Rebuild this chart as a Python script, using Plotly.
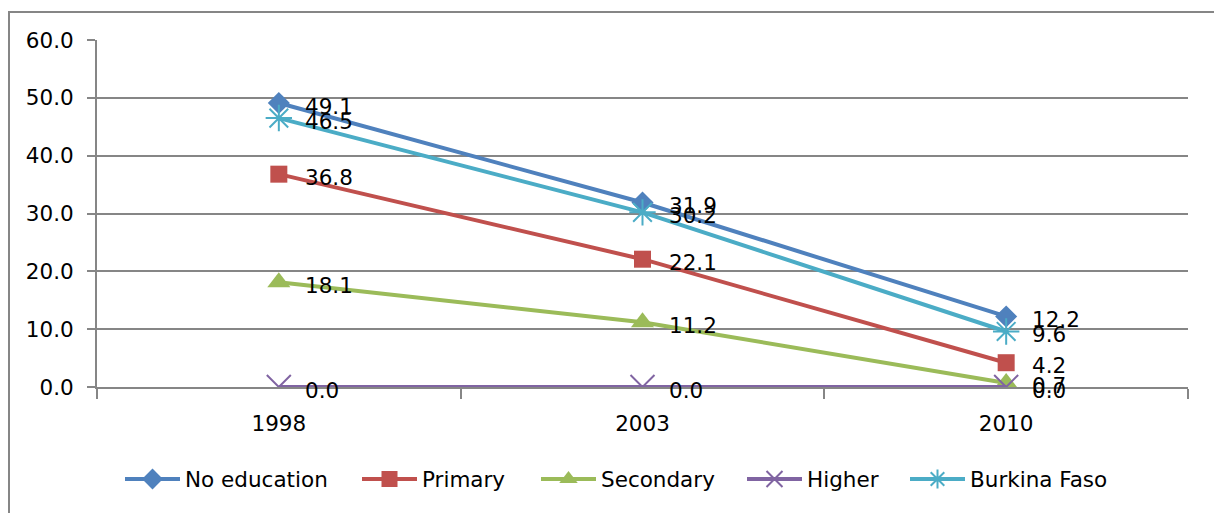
import plotly.graph_objects as go

# Survey years and series values (%)
years = ["1998", "2003", "2010"]
no_education = [49.1, 31.9, 12.2]
primary = [36.8, 22.1, 4.2]
secondary = [18.1, 11.2, 0.7]
higher = [0.0, 0.0, 0.0]
burkina_faso = [46.5, 30.2, 9.6]

series_names = ["No education", "Primary", "Secondary", "Higher", "Burkina Faso"]
y_ticks = [0, 10, 20, 30, 40, 50, 60]

W, H = 1214, 513
L, R, T, B = 97, 26, 40, 126
FONT = "DejaVu Sans"
FS = 21.5
GRID = "#868686"

styles = [
    dict(color="#4F81BD", symbol="diamond", size=17, lw=0),
    dict(color="#C0504D", symbol="square", size=17, lw=0),
    dict(color="#9BBB59", symbol="triangle-up", size=20, lw=0),
    dict(color="#8064A2", symbol="x-thin-open", size=24, lw=2),
    dict(color="#4BACC6", symbol="asterisk-open", size=22, lw=2),
]
data = [no_education, primary, secondary, higher, burkina_faso]
# left edge of each legend entry (px)
legend_left = [120, 357, 536, 742, 905]

fig = go.Figure()
for i, (name, vals, st) in enumerate(zip(series_names, data, styles)):
    lg = "legend" if i == 0 else f"legend{i + 1}"
    fig.add_trace(go.Scatter(
        x=years, y=vals, name=name, mode="lines+markers",
        line=dict(color=st["color"], width=4),
        marker=dict(symbol=st["symbol"], size=st["size"], color=st["color"],
                    line=dict(color=st["color"], width=st["lw"])),
        legend=lg, showlegend=True,
    ))
    fig.update_layout({lg: dict(
        x=legend_left[i] / W, xref="container", xanchor="left",
        y=1 - 479 / H, yref="container", yanchor="middle",
        orientation="h", bgcolor="rgba(0,0,0,0)",
        font=dict(family=FONT, size=FS, color="#000000"),
        itemwidth=55,
    )})

# value labels to the right of each point (category index as x position)
for vals in data:
    for idx, v in enumerate(vals):
        fig.add_annotation(
            x=idx, y=v, xref="x", yref="y", text=f"{v:.1f}", showarrow=False,
            xanchor="left", yanchor="middle", xshift=24, yshift=-3,
            font=dict(family=FONT, size=FS, color="#000000"),
        )

# outer chart frame (runs past the right and bottom edges)
pw, ph = W - L - R, H - T - B
fig.add_shape(
    type="rect", xref="paper", yref="paper",
    x0=(9 - L) / pw, x1=(W + 20 - L) / pw,
    y0=-(B + 20) / ph, y1=1 + (T - 12) / ph,
    line=dict(color=GRID, width=2), layer="below",
)

fig.update_layout(
    width=W, height=H,
    margin=dict(l=L, r=R, t=T, b=B, pad=0),
    paper_bgcolor="white", plot_bgcolor="white",
    font=dict(family=FONT, size=FS, color="#000000"),
    showlegend=True,
)
fig.update_xaxes(
    type="category", range=[-0.5, 2.5],
    showgrid=False, showline=True, linecolor=GRID, linewidth=2,
    ticks="outside", tickson="boundaries", ticklen=10, tickcolor=GRID, tickwidth=2,
    ticklabelstandoff=16, layer="below traces",
    tickfont=dict(family=FONT, size=FS, color="#000000"),
)
fig.update_yaxes(
    range=[0, 60], tickvals=y_ticks, tickformat=".1f",
    showgrid=True, gridcolor=GRID, gridwidth=2,
    showline=True, linecolor=GRID, linewidth=2,
    ticks="outside", ticklen=8, tickcolor=GRID, tickwidth=2,
    ticklabelstandoff=9, zeroline=False, layer="below traces",
    tickfont=dict(family=FONT, size=FS, color="#000000"),
)

fig.write_html("out.html")
